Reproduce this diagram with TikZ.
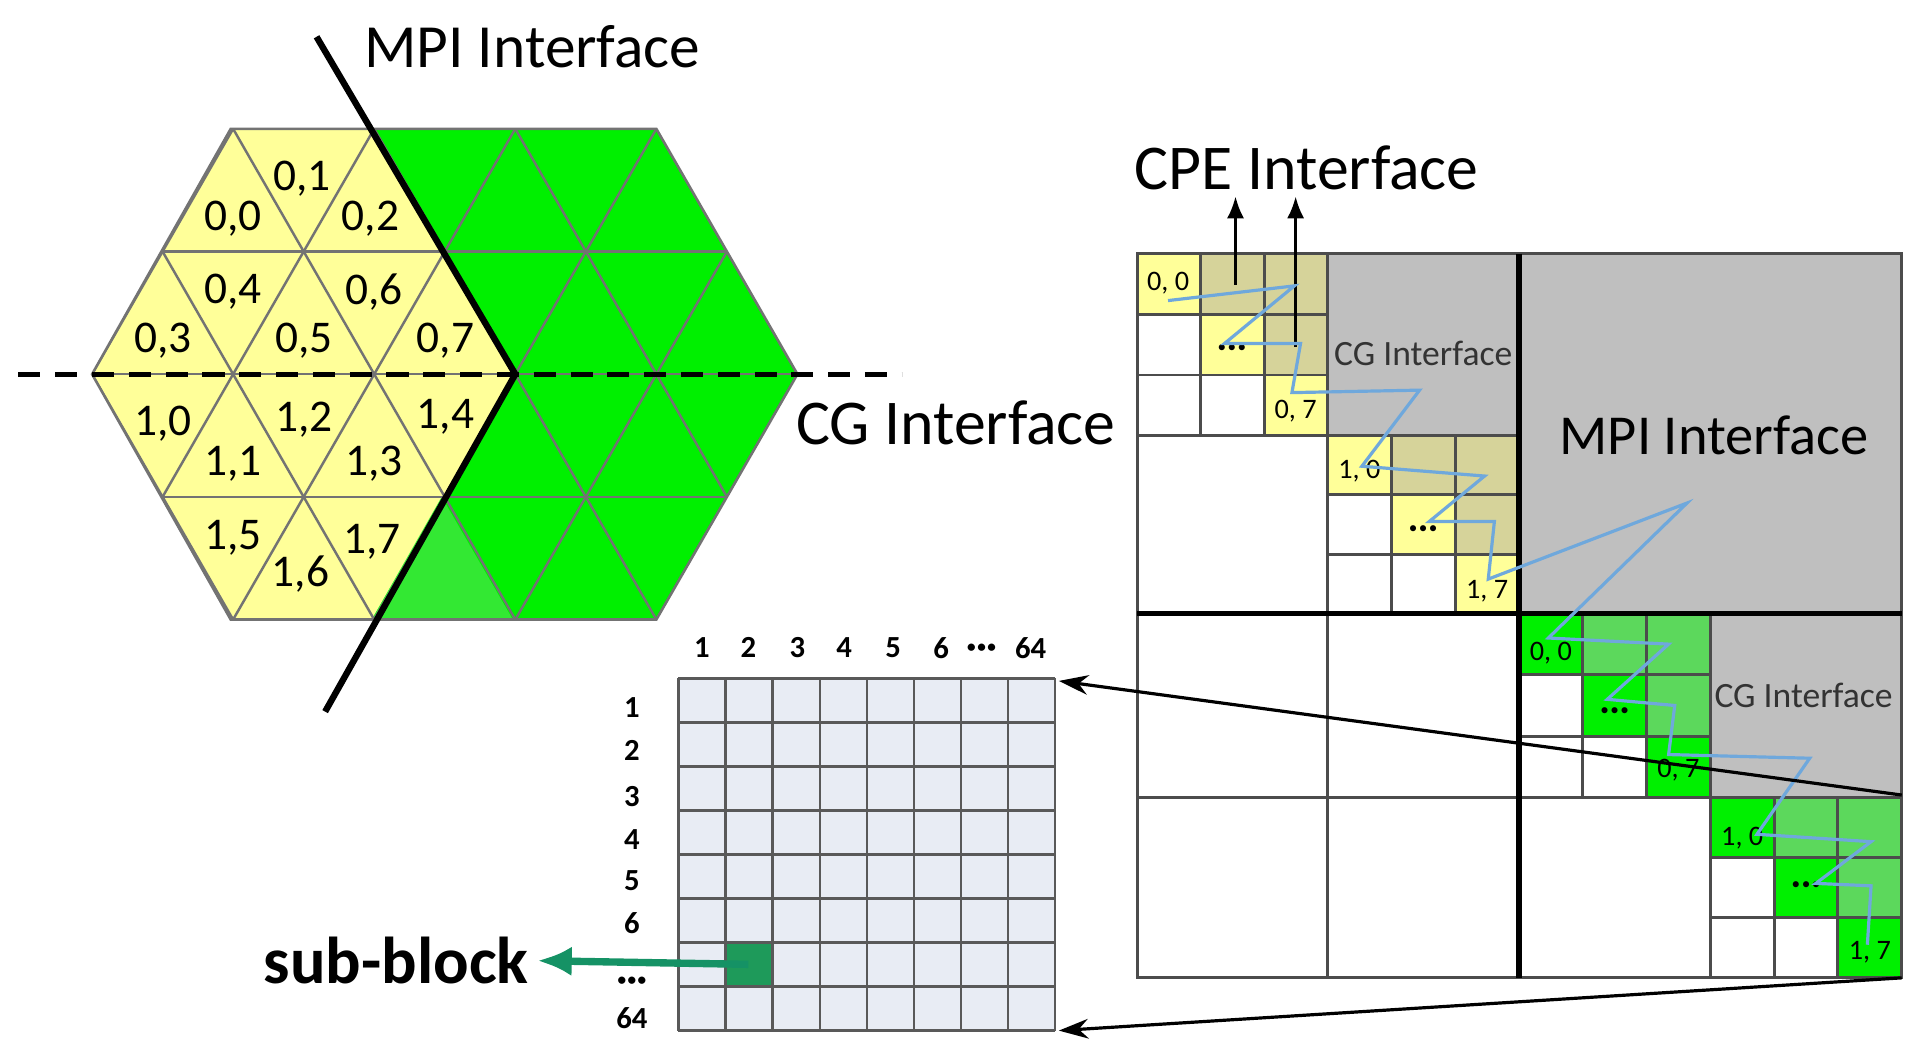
\documentclass[tikz,border=0pt]{standalone}
\usepackage{fontspec}
\setmainfont{Carlito}
\usetikzlibrary{arrows.meta}
\definecolor{yel}{HTML}{FFFF99}
\definecolor{yelsh}{HTML}{D6D39A}
\definecolor{grn}{HTML}{00F000}
\definecolor{grnsh}{HTML}{5CD85C}
\definecolor{grnl}{HTML}{33E833}
\definecolor{gry}{HTML}{BFBFBF}
\definecolor{gridc}{HTML}{E8ECF4}
\definecolor{zig}{HTML}{6FA8DC}
\definecolor{sub}{HTML}{1E9A5A}
\newcommand\mblk[6]{%
  \foreach \i in {0,1,2}{\foreach \j in {0,1,2}{%
    \ifnum\i=\j \fill[#5] (#1+\j*#3,#2+\i*#4) rectangle ++(#3,#4);\fi
    \ifnum\j>\i \fill[#6] (#1+\j*#3,#2+\i*#4) rectangle ++(#3,#4);\fi
    \draw[cell] (#1+\j*#3,#2+\i*#4) rectangle ++(#3,#4);}}}
\newcommand\dd{{\fontsize{7}{7}\selectfont\textbullet\hspace{0.6pt}\textbullet\hspace{0.6pt}\textbullet}}
\tikzset{cell/.style={draw=black!70,line width=1.2},
  tl/.style={font=\fontsize{18.5}{18}\selectfont},
  ml/.style={font=\fontsize{11.5}{11}\selectfont},
  gl/.style={font=\bfseries\fontsize{12.5}{12}\selectfont}}
\begin{document}
\begin{tikzpicture}[x=0.5pt,y=-0.5pt]
\useasboundingbox (0,0) rectangle (1560,860);
% hexagon
\fill[yel] (188,105)--(303,105)--(420,305)--(303,505)--(188,505)--(75,305)--cycle;
\fill[grn] (303,105)--(535,105)--(650,305)--(535,505)--(303,505)--(420,305)--cycle;
\fill[grnl] (303,505)--(418,505)--(360,405)--cycle;
\begin{scope}
\clip (188,105)--(535,105)--(650,305)--(535,505)--(188,505)--(75,305)--cycle;
\foreach \y in {105,205,305,405,505} \draw[black!55,line width=1] (0,\y)--(800,\y);
\foreach \i in {-4,...,9}{
  \draw[black!55,line width=1] ({75+115*\i-172.5},5)--({75+115*\i+172.5},605);
  \draw[black!55,line width=1] ({75+115*\i+172.5},5)--({75+115*\i-172.5},605);}
\end{scope}
\draw[black!55,line width=1] (188,105)--(535,105)--(650,305)--(535,505)--(188,505)--(75,305)--cycle;
\node[tl] (t00) at (190,178) {0,0};
\node[tl] (t01) at (246,146) {0,1};
\node[tl] (t02) at (302,178) {0,2};
\node[tl] (t03) at (133,278) {0,3};
\node[tl] (t04) at (190,238) {0,4};
\node[tl] (t05) at (248,278) {0,5};
\node[tl] (t06) at (305,238) {0,6};
\node[tl] (t07) at (363,278) {0,7};
\node[tl] (t10) at (133,345) {1,0};
\node[tl] (t11) at (190,378) {1,1};
\node[tl] (t12) at (248,342) {1,2};
\node[tl] (t13) at (305,378) {1,3};
\node[tl] (t14) at (363,340) {1,4};
\node[tl] (t15) at (190,438) {1,5};
\node[tl] (t16) at (245,468) {1,6};
\node[tl] (t17) at (303,442) {1,7};
\coordinate (cgl) at (15,305); \coordinate (cgr) at (735,305);
\draw[line width=2.2,dash pattern=on 9 off 6] (cgl)--(cgr);
\coordinate (m1) at (258,30); \coordinate (mc) at (420,305); \coordinate (m2) at (265,580);
\draw[line width=2.6] (m1)--(mc)--(m2);
\node[font=\fontsize{25}{25}\selectfont,anchor=west] (mpil) at (290,38) {MPI Interface};
\node[font=\fontsize{26}{26}\selectfont,anchor=west] (cgll) at (642,345) {CG Interface};
% matrix
\fill[gry] (1082,207) rectangle (1238,355);
\fill[gry] (1238,207) rectangle (1550,500);
\fill[gry] (1394,500) rectangle (1550,650);
\draw[cell] (927,355) rectangle (1082,500);
\draw[cell] (927,500) rectangle (1082,650);
\draw[cell] (1082,500) rectangle (1238,650);
\draw[cell] (927,650) rectangle (1082,797);
\draw[cell] (1082,650) rectangle (1238,797);
\draw[cell] (1238,650) rectangle (1394,797);
\mblk{927}{207}{51.67}{49.33}{yel}{yelsh}
\mblk{1082}{355}{52}{48.33}{yel}{yelsh}
\mblk{1238}{500}{52}{50}{grn}{grnsh}
\mblk{1394}{650}{52}{49}{grn}{grnsh}
\draw[cell] (927,207) rectangle (1550,797);
\draw[line width=2.2] (1238,207)--(1238,797) (927,500)--(1550,500);
\node[ml] (a00) at (952,231) {0, 0};
\node[ml] (a01) at (1004,284) {\dd};
\node[ml] (a07) at (1056,335) {0, 7};
\node[ml] (b10) at (1108,384) {1, 0};
\node[ml] (b11) at (1160,432) {\dd};
\node[ml] (b17) at (1212,482) {1, 7};
\node[ml] (c00) at (1264,532) {0, 0};
\node[ml] (c01) at (1316,580) {\dd};
\node[ml] (c07) at (1368,628) {0, 7};
\node[ml] (d10) at (1420,683) {1, 0};
\node[ml] (d11) at (1472,722) {\dd};
\node[ml] (d17) at (1524,776) {1, 7};
\node[font=\fontsize{14.5}{14}\selectfont,text=black!80] (cg1) at (1160,288) {CG Interface};
\node[font=\fontsize{14.5}{14}\selectfont,text=black!80] (cg2) at (1470,567) {CG Interface};
\node[font=\fontsize{23}{23}\selectfont] (mpim) at (1397,355) {MPI Interface};
\node[font=\fontsize{26}{26}\selectfont] (cpe) at (1065,137) {CPE Interface};
\coordinate (p1) at (1007,232); \coordinate (p1t) at (1007,160);
\coordinate (p2) at (1056,283); \coordinate (p2t) at (1056,160);
\draw[line width=1.3,-{Latex[length=9,width=7]}] (p1)--(p1t);
\draw[line width=1.3,-{Latex[length=9,width=7]}] (p2)--(p2t);
\draw[zig,line width=1.3] (952,245)--(1055,233)--(998,280)--(1060,280)--(1053,320)--(1157,318)--(1110,380)--(1210,388)--(1165,425)--(1218,425)--(1213,472)--(1375,410)--(1262,520)--(1360,525)--(1310,570)--(1365,575)--(1360,615)--(1475,618)--(1432,680)--(1525,686)--(1480,720)--(1525,722)--(1522,770);
% grid
\fill[gridc] (553,553) rectangle (860,840);
\fill[sub] (591.4,768.5) rectangle (629.8,804.4);
\foreach \k in {0,...,8}{
  \draw[black!65,line width=1] ({553+38.375*\k},553)--({553+38.375*\k},840);
  \draw[black!65,line width=1] (553,{553+35.875*\k})--(860,{553+35.875*\k});}
\foreach \x/\t in {572/1,610/2,650/3,688/4,728/5,767/6,800/\dd,840/64}
  \node[gl] at (\x,528) {\t};
\foreach \y/\t in {577/1,612/2,649/3,684/4,718/5,752/6,800/\dd,830/64}
  \node[gl] at (515,\y) {\t};
\coordinate (gtr) at (863,555); \coordinate (gbr) at (863,840);
\coordinate (mtr) at (1550,648); \coordinate (mbr) at (1550,797);
\draw[line width=1.3,-{Stealth[length=12,width=8]}] (mtr)--(gtr);
\draw[line width=1.3,-{Stealth[length=12,width=8]}] (mbr)--(gbr);
\node[font=\bfseries\fontsize{27}{27}\selectfont] (sb) at (323,783) {sub-block};
\coordinate (sbs) at (610,786);
\draw[sub!70!teal,line width=3,-{Latex[length=14,width=12]}] (sbs)--(sb.east);
\end{tikzpicture}
\end{document}
